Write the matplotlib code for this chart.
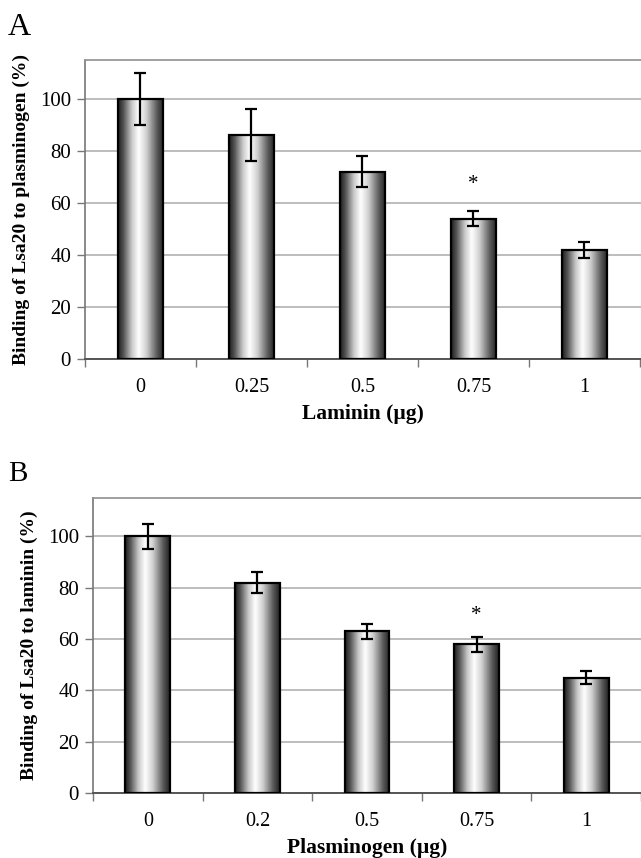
import numpy as np
import matplotlib
matplotlib.use("Agg")
import matplotlib.pyplot as plt
from matplotlib.colors import LinearSegmentedColormap

plt.rcParams['font.family'] = ['Liberation Serif', 'DejaVu Serif']

# ---- data ----
cats_a = ["0", "0.25", "0.5", "0.75", "1"]
vals_a = [100, 86, 72, 54, 42]
errs_a = [10, 10, 6, 3, 3]
star_a_idx = 3
star_a_y = 67

cats_b = ["0", "0.2", "0.5", "0.75", "1"]
vals_b = [100, 82, 63, 58, 45]
errs_b = [5, 4, 3, 3, 2.6]
star_b_idx = 3
star_b_y = 69

W, H = 641, 858
fig = plt.figure(figsize=(W / 100, H / 100), dpi=100)

cmap = LinearSegmentedColormap.from_list(
    "cyl", [(0.0, "#1c1c1c"), (0.12, "#555555"), (0.30, "#c8c8c8"),
            (0.45, "#ffffff"), (0.62, "#d0d0d0"), (0.85, "#5a5a5a"),
            (1.0, "#202020")])
grad = np.linspace(0, 1, 256).reshape(1, -1)


def panel(rect, cats, vals, errs, star_idx, star_y, xmax, ylabel, xlabel):
    ax = fig.add_axes(rect)
    x = np.arange(len(cats))
    bars = ax.bar(x, vals, width=0.41, facecolor="none", edgecolor="black",
                  linewidth=1.6, zorder=3)
    for b in bars:
        x0, y0 = b.get_x(), b.get_y()
        im = ax.imshow(grad, cmap=cmap, aspect="auto", zorder=2,
                       extent=(x0, x0 + b.get_width(), y0, y0 + b.get_height()),
                       interpolation="bicubic")
        im.set_clip_path(b)
    ax.errorbar(x, vals, yerr=errs, fmt="none", ecolor="black", elinewidth=1.6,
                capsize=4.5, capthick=1.6, zorder=4)
    ax.text(star_idx, star_y, "*", ha="center", va="center", fontsize=15, zorder=5)
    ax.set_xlim(-0.5, xmax)
    ax.set_ylim(0, 115)
    ax.set_yticks([0, 20, 40, 60, 80, 100])
    ax.set_yticklabels(["0", "20", "40", "60", "80", "100"], fontsize=15)
    ax.yaxis.grid(True, color="#ababab", linewidth=1.1, zorder=0)
    ax.set_axisbelow(True)
    ax.set_xticks(x)
    ax.set_xticklabels(cats, fontsize=14.5)
    ax.tick_params(axis="x", length=0, pad=14)
    ax.set_xticks(np.arange(-0.5, len(cats) - 0.4, 1.0), minor=True)
    ax.tick_params(axis="x", which="minor", length=6, color="#777777", width=1)
    ax.tick_params(axis="y", length=6, color="#777777", width=1, pad=4)
    ax.spines["left"].set_color("#777777")
    ax.spines["left"].set_linewidth(1.2)
    ax.spines["top"].set_color("#909090")
    ax.spines["top"].set_linewidth(1.2)
    ax.spines["bottom"].set_color("#555555")
    ax.spines["bottom"].set_linewidth(1.4)
    ax.spines["right"].set_visible(False)
    ax.set_ylabel(ylabel, fontsize=14, fontweight="bold", labelpad=7)
    ax.set_xlabel(xlabel, fontsize=15.5, fontweight="bold", labelpad=5)
    return ax


axA = panel([85 / W, 1 - 359 / H, (W - 85) / W, (359 - 60) / H],
            cats_a, vals_a, errs_a, star_a_idx, star_a_y, 4.51,
            "Binding of Lsa20 to plasminogen (%)", "Laminin (µg)")
axB = panel([93 / W, 1 - 793 / H, (W - 93) / W, (793 - 498) / H],
            cats_b, vals_b, errs_b, star_b_idx, star_b_y, 4.44,
            "Binding of Lsa20 to laminin (%)", "Plasminogen (µg)")

fig.text(8 / W, 1 - 35 / H, "A", fontsize=23, ha="left", va="baseline")
fig.text(8 / W, 1 - 481 / H, "B", fontsize=21, ha="left", va="baseline")

fig.savefig("out.png", dpi=100)
